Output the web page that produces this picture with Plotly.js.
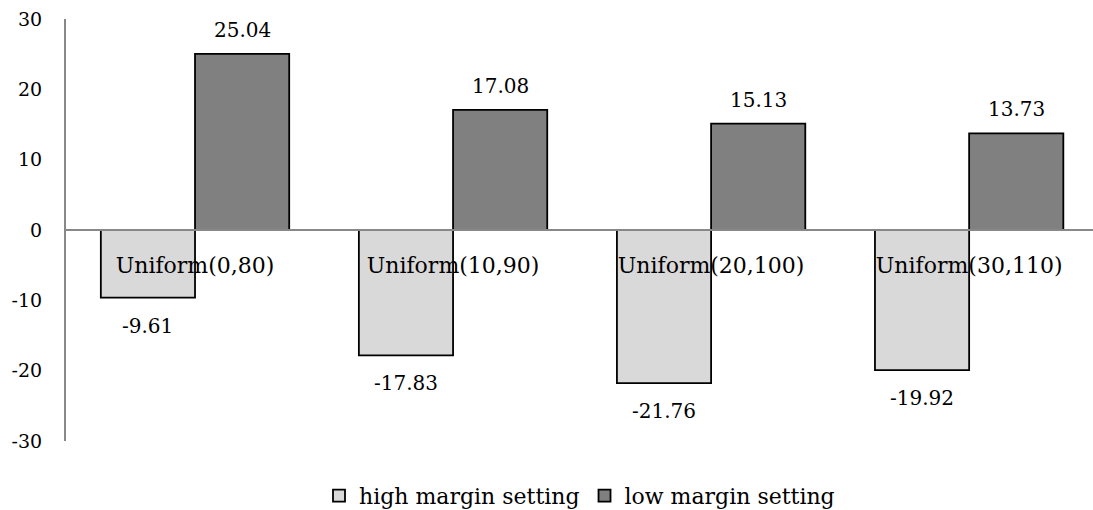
<!DOCTYPE html>
<html>
<head>
<meta charset="utf-8">
<script src="https://cdn.plot.ly/plotly-3.0.1.min.js"></script>
<style>html,body{margin:0;padding:0;background:#fff;}#chart{width:1093px;height:510px;}</style>
</head>
<body>
<div id="chart"></div>
<script>
var categories = ["Uniform(0,80)", "Uniform(10,90)", "Uniform(20,100)", "Uniform(30,110)"];
var highMargin = [-9.61, -17.83, -21.76, -19.92];
var lowMargin = [25.04, 17.08, 15.13, 13.73];
var seriesNames = ["high margin setting", "low margin setting"];
var yTickVals = [-30, -20, -10, 0, 10, 20, 30];
var yTickLabels = ["-30", "-20", "-10", "0", "10", "20", "30"];

var FONT = "DejaVu Serif, Liberation Serif, serif";
var bargap = 0.27;
var off = (1 - bargap) / 4;

var traces = [
  {type: "bar", name: seriesNames[0], x: categories, y: highMargin,
   marker: {color: "#d9d9d9", line: {color: "#000", width: 1.8}}},
  {type: "bar", name: seriesNames[1], x: categories, y: lowMargin,
   marker: {color: "#808080", line: {color: "#000", width: 1.8}}}
];

var annotations = [];
[highMargin, lowMargin].forEach(function (arr, s) {
  arr.forEach(function (v, i) {
    annotations.push({
      xref: "x", yref: "y", x: i + (s === 0 ? -off : off), y: v,
      text: v.toFixed(2), showarrow: false, yanchor: "middle",
      yshift: v < 0 ? -28 : 24,
      font: {family: FONT, size: 20, color: "#000"}
    });
  });
});

var layout = {
  width: 1093, height: 510,
  margin: {l: 66, r: 0, t: 19, b: 69, autoexpand: false},
  paper_bgcolor: "#fff", plot_bgcolor: "#fff",
  barmode: "group", bargap: bargap, bargroupgap: 0,
  showlegend: true,
  legend: {orientation: "h", x: 0.5, xanchor: "center", y: -0.13, yanchor: "middle",
           font: {family: FONT, size: 22, color: "#000"}},
  xaxis: {type: "category", range: [-0.5, 3.48], anchor: "free", position: 0.5,
          showline: true, linecolor: "#888888", linewidth: 2, showgrid: false,
          zeroline: false, ticks: "", ticklabelstandoff: 16,
          tickfont: {family: FONT, size: 22, color: "#000"}},
  yaxis: {range: [-30, 30], tickvals: yTickVals, ticktext: yTickLabels,
          showline: true, linecolor: "#888888", linewidth: 2, showgrid: false,
          zeroline: false, ticks: "", ticklabelstandoff: 18,
          tickfont: {family: FONT, size: 19, color: "#000"}},
  annotations: annotations
};

Plotly.newPlot("chart", traces, layout, {displayModeBar: false, staticPlot: true});
</script>
</body>
</html>
